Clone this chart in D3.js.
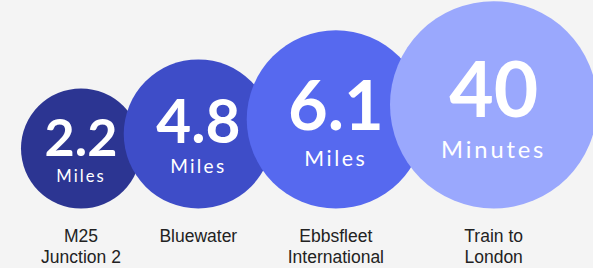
<!DOCTYPE html>
<html><head><meta charset="utf-8">
<script src="https://cdn.jsdelivr.net/npm/d3@7"></script>
<style>
html,body{margin:0;padding:0;background:#f4f4f4;}
svg{display:block;}
</style></head>
<body><div id="chart"></div>
<script>
// ---- data ----
const categories = ["M25\nJunction 2", "Bluewater", "Ebbsfleet\nInternational", "Train to\nLondon"];
const values = ["2.2", "4.8", "6.1", "40"];
const units = ["Miles", "Miles", "Miles", "Minutes"];
const colors = ["#2c3592", "#3e4dc8", "#5669ef", "#9aa8fd"];

const W = 593, H = 268;
const svg = d3.select("#chart").append("svg").attr("width", W).attr("height", H);
svg.append("rect").attr("width", W).attr("height", H).attr("fill", "#f4f4f4");

// radius grows by rank
const rScale = d3.scaleLog().domain([1, 1.2 ** 3]).range([60, 60 * 1.2 ** 3]);
const radii = categories.map((d, i) => rScale(1.2 ** i));
const overlap = d3.scaleLinear().domain([72, 103.7]).range([15.7, 35]);
const baseline = 208.5;
const cxs = [];
radii.forEach((r, i) => {
  cxs.push(i === 0 ? 81 : cxs[i - 1] + radii[i - 1] + r - overlap(r));
});

const capNum = d3.scaleLinear().domain([60, 103]).range([37.5, 55]);
const capUnit = d3.scaleLinear().domain([60, 103]).range([12, 17]);
const unitOffset = d3.scaleLinear().domain([60, 72, 86.4, 103.7]).range([33.5, 38, 45.5, 53]);

const nodes = categories.map((c, i) => ({
  cat: c, val: values[i], unit: units[i], color: colors[i],
  r: radii[i], cx: cxs[i], cy: baseline - radii[i]
}));

const g = svg.selectAll("g.bub").data(nodes).join("g").attr("class", "bub");
g.append("circle")
  .attr("cx", d => d.cx).attr("cy", d => d.cy).attr("r", d => d.r)
  .attr("fill", d => d.color);
g.append("text")
  .attr("x", d => d.cx).attr("y", d => d.cy + 0.12 * d.r)
  .attr("text-anchor", "middle")
  .attr("font-family", "Lato, 'Open Sans', sans-serif")
  .attr("font-weight", 700)
  .attr("font-size", d => capNum(d.r) / 0.72)
  .attr("fill", "#ffffff")
  .text(d => d.val);
g.append("text")
  .attr("x", d => d.cx).attr("y", d => d.cy + unitOffset(d.r))
  .attr("text-anchor", "middle")
  .attr("font-family", "Lato, 'Open Sans', sans-serif")
  .attr("font-weight", 400)
  .attr("font-size", d => capUnit(d.r) / 0.72)
  .attr("letter-spacing", d => (capUnit(d.r) / 0.72 * 0.12) + "px")
  .attr("fill", "#ffffff")
  .text(d => d.unit);

const lab = svg.selectAll("text.lab").data(nodes).join("text").attr("class", "lab")
  .attr("x", d => d.cx).attr("y", 242)
  .attr("text-anchor", "middle")
  .attr("font-family", "'Liberation Sans', Arial, sans-serif")
  .attr("font-size", 17.5)
  .attr("fill", "#222222");
lab.selectAll("tspan").data(d => d.cat.split("\n").map(t => ({t, x: d.cx})))
  .join("tspan").attr("x", d => d.x).attr("dy", (d, i) => i === 0 ? 0 : 21).text(d => d.t);
</script></body></html>
